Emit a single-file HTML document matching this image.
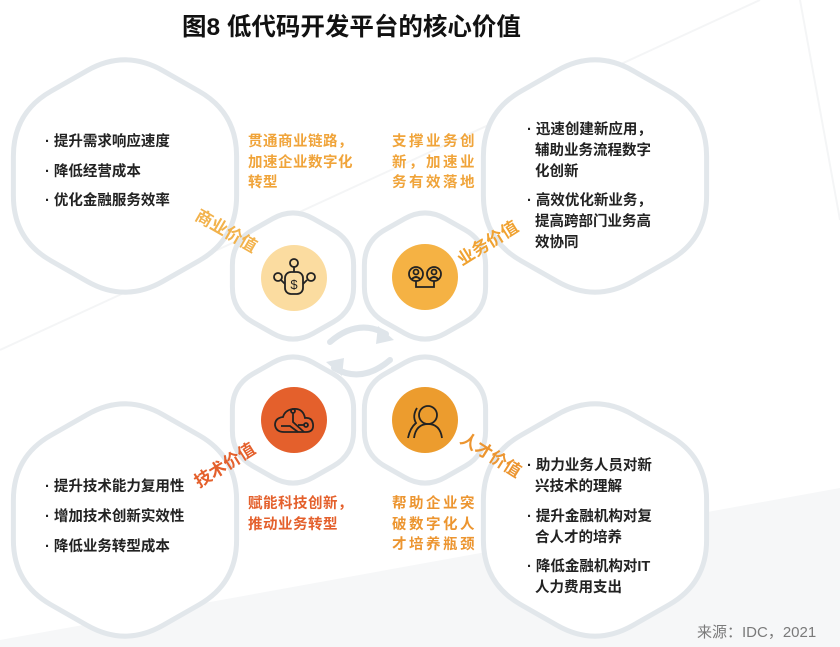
<!DOCTYPE html>
<html><head><meta charset="utf-8">
<style>
html,body{margin:0;padding:0;}
body{width:840px;height:647px;position:relative;overflow:hidden;background:#fff;font-family:"Liberation Sans","Noto Sans CJK SC",sans-serif;}
.t{position:absolute;white-space:nowrap;font-weight:bold;}
.l{position:absolute;font-size:14.5px;color:#222;font-weight:bold;line-height:21px;white-space:nowrap;}
.o{position:absolute;font-size:14.5px;font-weight:bold;line-height:20.5px;white-space:nowrap;}
svg{position:absolute;left:0;top:0;}
</style></head><body>
<svg width="840" height="647" viewBox="0 0 840 647">
<polygon points="0,647 0,640 840,488 840,647" fill="#f6f7f8"/>
<line x1="0" y1="350" x2="760" y2="0" stroke="#f4f5f6" stroke-width="2"/>
<line x1="800" y1="0" x2="840" y2="220" stroke="#f4f5f6" stroke-width="2"/>
<g id="strokes" fill="#e2e7eb" stroke="#e2e7eb" stroke-width="10" stroke-linejoin="round"></g>
<g id="fills" fill="#fff"></g>
<!-- circular arrows -->
<g fill="none" stroke="#dfe5ea" stroke-width="6" stroke-linecap="round">
<path d="M330,342 Q358,318 386,334"/>
<path d="M390,360 Q362,384 334,368"/>
</g>
<polygon points="394,340 378,326 376,344" fill="#dfe5ea"/>
<polygon points="326,362 342,376 344,358" fill="#dfe5ea"/>
<!-- icon circles -->
<circle cx="294" cy="278" r="33" fill="#fbdca0"/>
<circle cx="425" cy="277" r="33" fill="#f5b244"/>
<circle cx="294" cy="420" r="33" fill="#e4602c"/>
<circle cx="425" cy="420" r="33" fill="#ec9c2e"/>
<!-- icon TL -->
<g fill="none" stroke="#222" stroke-width="1.8">
<circle cx="294" cy="263" r="4"/><line x1="294" y1="267" x2="294" y2="272"/>
<rect x="285" y="272" width="18" height="22" rx="6"/>
<circle cx="278" cy="277" r="4"/><circle cx="311" cy="277" r="4"/>
<path d="M281,280 L285,284 M307,280 L303,284"/>
<text x="294" y="289" font-size="13" fill="#222" stroke="none" text-anchor="middle" font-family="Liberation Sans">$</text>
</g>
<!-- icon TR -->
<g fill="none" stroke="#222" stroke-width="1.8">
<circle cx="416" cy="274" r="7"/><circle cx="434" cy="274" r="7"/>
<circle cx="416" cy="272" r="2.5"/><circle cx="434" cy="272" r="2.5"/>
<path d="M412,279 Q416,275 420,279 M430,279 Q434,275 438,279"/>
<path d="M416,281 V287 H434 V281"/>
</g>
<!-- icon BL cloud -->
<g fill="none" stroke="#222" stroke-width="1.8">
<path d="M284,432 H306 Q314,432 313,424 Q312,417 305,418 Q303,408 293,409 Q285,410 283,417 Q275,418 275,425 Q276,432 284,432 Z"/>
<path d="M293,412 V422 L304,432"/><circle cx="293" cy="411" r="2"/>
<path d="M281,426 H290 L298,432"/><path d="M298,425 H305"/><circle cx="306" cy="425" r="2"/>
</g>
<!-- icon BR people -->
<g fill="none" stroke="#222" stroke-width="1.8">
<circle cx="428" cy="415" r="9"/>
<path d="M414,438 Q416,424 428,424 Q440,424 442,438"/>
<path d="M417,408 Q412,416 416,423 Q410,428 408,438"/>
</g>
<!-- labels -->
<text x="0" y="0" transform="translate(194,219) rotate(30)" font-size="17" font-weight="bold" fill="#f2b24c" font-family="Liberation Sans,Noto Sans CJK SC,sans-serif">商业价值</text>
<text x="0" y="0" transform="translate(462,266) rotate(-32)" font-size="17" font-weight="bold" fill="#f0a231" font-family="Liberation Sans,Noto Sans CJK SC,sans-serif">业务价值</text>
<text x="0" y="0" transform="translate(199,488) rotate(-32)" font-size="17" font-weight="bold" fill="#e4602c" font-family="Liberation Sans,Noto Sans CJK SC,sans-serif">技术价值</text>
<text x="0" y="0" transform="translate(459,442) rotate(32)" font-size="17" font-weight="bold" fill="#ec9530" font-family="Liberation Sans,Noto Sans CJK SC,sans-serif">人才价值</text>
</svg>
<div class="t" style="left:182px;top:8px;font-size:24.5px;color:#111;">图8 低代码开发平台的核心价值</div>

<div class="l" style="left:45px;top:132px;">· 提升需求响应速度</div>
<div class="l" style="left:45px;top:162px;">· 降低经营成本</div>
<div class="l" style="left:45px;top:191px;">· 优化金融服务效率</div>

<div class="o" style="left:248px;top:132px;color:#f0a43a;letter-spacing:0.5px;">贯通商业链路，<br>加速企业数字化<br>转型</div>
<div class="o" style="left:392px;top:132px;color:#f0a43a;letter-spacing:2.5px;">支撑业务创<br>新，加速业<br>务有效落地</div>

<div class="l" style="left:527px;top:120px;">· 迅速创建新应用，<br>&nbsp;&nbsp;辅助业务流程数字<br>&nbsp;&nbsp;化创新</div>
<div class="l" style="left:527px;top:191px;">· 高效优化新业务，<br>&nbsp;&nbsp;提高跨部门业务高<br>&nbsp;&nbsp;效协同</div>

<div class="l" style="left:45px;top:477px;">· 提升技术能力复用性</div>
<div class="l" style="left:45px;top:507px;">· 增加技术创新实效性</div>
<div class="l" style="left:45px;top:537px;">· 降低业务转型成本</div>

<div class="o" style="left:248px;top:494px;color:#e4602c;letter-spacing:0.5px;">赋能科技创新，<br>推动业务转型</div>
<div class="o" style="left:392px;top:494px;color:#ec9530;letter-spacing:2.5px;">帮助企业突<br>破数字化人<br>才培养瓶颈</div>

<div class="l" style="left:527px;top:456px;">· 助力业务人员对新<br>&nbsp;&nbsp;兴技术的理解</div>
<div class="l" style="left:527px;top:507px;">· 提升金融机构对复<br>&nbsp;&nbsp;合人才的培养</div>
<div class="l" style="left:527px;top:557px;">· 降低金融机构对IT<br>&nbsp;&nbsp;人力费用支出</div>

<div class="t" style="left:697px;top:621px;font-size:15px;color:#7a7a7a;font-weight:normal;">来源：IDC，2021</div>

<script>
(function(){
 var ns="http://www.w3.org/2000/svg";
 function hex(cx,cy,R,d){
  var pts=[];
  for(var i=0;i<6;i++){var a=(-90+60*i)*Math.PI/180;pts.push([cx+R*Math.cos(a)*0.88/0.866,cy+R*Math.sin(a)]);}
  var s="";
  for(var i=0;i<6;i++){
   var V=pts[i],P=pts[(i+5)%6],N=pts[(i+1)%6];
   function mv(T){var dx=T[0]-V[0],dy=T[1]-V[1],L=Math.hypot(dx,dy);return [V[0]+dx/L*d,V[1]+dy/L*d];}
   var A=mv(P),B=mv(N);
   s+=(i==0?"M":"L")+A[0].toFixed(1)+","+A[1].toFixed(1)+" Q"+V[0].toFixed(1)+","+V[1].toFixed(1)+" "+B[0].toFixed(1)+","+B[1].toFixed(1)+" ";
  }
  return s+"Z";
 }
 var shapes=[[125,176,124,42],[595,176,124,42],[125,520,124,42],[595,520,124,42],
  [293,276,66,22],[425,276,66,22],[293,420,66,22],[425,420,66,22]];
 var gs=document.getElementById("strokes"),gf=document.getElementById("fills");
 shapes.forEach(function(h){
  var d=hex(h[0],h[1],h[2],h[3]);
  var p=document.createElementNS(ns,"path");p.setAttribute("d",d);gs.appendChild(p);
  var q=document.createElementNS(ns,"path");q.setAttribute("d",d);gf.appendChild(q);
 });
})();
</script>
</body></html>
